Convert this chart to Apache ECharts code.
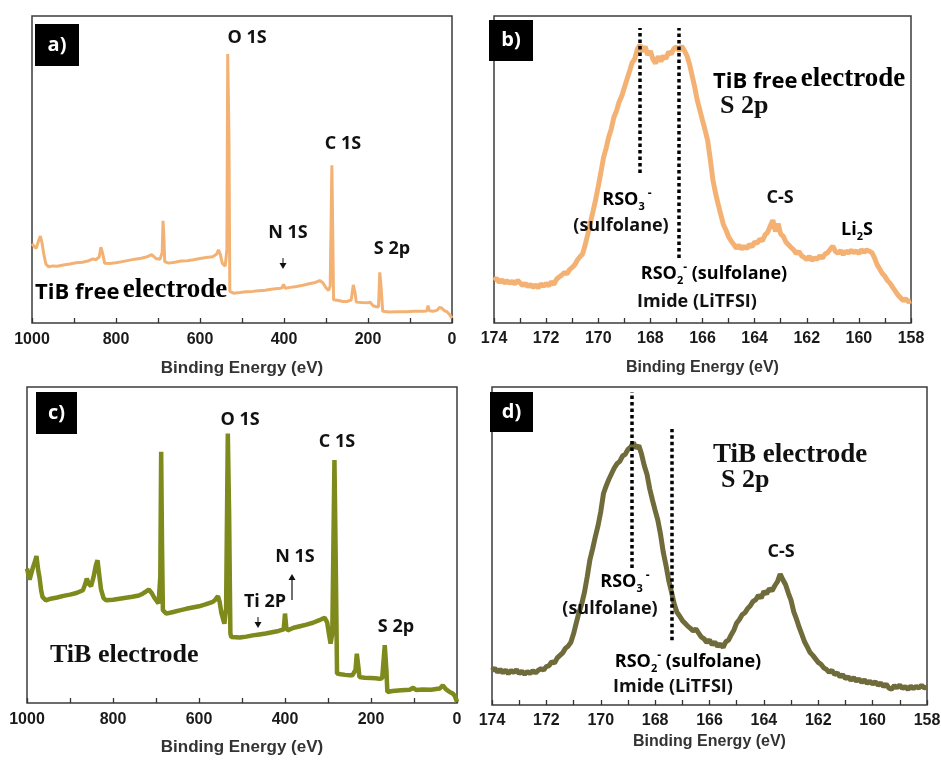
<!DOCTYPE html>
<html>
<head>
<meta charset="utf-8">
<script src="https://cdn.jsdelivr.net/npm/echarts@6/dist/echarts.min.js"></script>
<style>
  html, body { margin: 0; padding: 0; background: #fff; }
  #chart { width: 941px; height: 761px; }
</style>
</head>
<body>
<div id="chart"></div>
<script>
// Survey spectra: [binding energy (eV), intensity (a.u., 0-100)]
const surveyFree = [
  [1000,25.8],[995,25.0],[990,24.3],[985,26.5],[980,28.3],[976,26.0],[972,22.5],[967,19.2],[960,18.3],[950,18.6],
  [940,18.5],[925,18.9],[910,19.2],[895,19.6],[880,19.8],[865,20.3],[855,20.9],[848,20.6],[840,21.5],[836,24.7],
  [832,22.8],[827,19.5],[815,19.4],[800,19.6],[785,20.0],[770,20.4],[755,20.8],[740,21.1],[725,21.6],[715,22.3],
  [705,21.0],[695,20.8],[690,23.0],[688,33.3],[686,28.0],[684,20.0],[675,19.5],[660,19.8],[645,20.2],[630,20.3],
  [615,20.6],[600,21.0],[585,21.3],[570,21.6],[560,22.5],[556,23.8],[552,22.5],[547,19.5],[540,18.5],[536,24.0],
  [534,87.6],[531,60.0],[529,10.3],[520,9.7],[505,9.9],[490,10.2],[475,10.3],[460,10.5],[445,10.7],[430,11.0],
  [415,11.2],[405,11.4],[401,12.6],[397,11.3],[385,11.6],[370,11.9],[355,12.3],[340,12.8],[325,13.2],[315,13.8],
  [308,13.2],[300,11.5],[294,10.6],[290,12.0],[286,51.4],[284,30.0],[282,7.6],[270,7.3],[260,7.0],[250,7.0],
  [240,7.5],[235,12.4],[231,10.0],[228,6.8],[215,6.7],[200,6.6],[195,6.8],[188,5.6],[180,5.3],[175,5.2],
  [172,16.5],[169,12.0],[165,3.8],[150,3.6],[130,3.7],[110,3.7],[90,3.8],[70,3.8],[60,3.9],[57,5.7],
  [54,4.0],[45,3.8],[35,4.2],[30,5.1],[24,4.8],[18,4.0],[12,3.7],[6,2.8],[0,1.6]
];

const surveyTiB = [
  [1000,42.6],[994,39.0],[991,39.4],[986,43.0],[981,45.0],[978,46.5],[974,42.0],[971,39.8],[967,35.5],[964,33.6],
  [956,32.5],[945,33.0],[930,33.4],[915,33.9],[900,34.3],[885,34.8],[870,35.7],[865,37.5],[861,39.4],[856,37.6],
  [851,37.0],[845,40.0],[840,43.5],[836,45.2],[832,40.5],[828,36.0],[822,33.2],[816,32.5],[800,32.7],[785,33.0],
  [770,33.3],[755,33.6],[740,34.0],[731,34.6],[724,35.2],[717,35.9],[710,34.8],[704,33.3],[698,32.2],[694,31.5],
  [690,40.0],[688,79.5],[686,50.0],[684,29.4],[680,28.9],[676,28.3],[660,28.8],[645,29.3],[630,29.8],[615,30.2],
  [600,30.6],[585,31.2],[568,32.0],[562,32.7],[556,33.8],[552,32.0],[548,28.5],[544,26.5],[541,25.1],[537,30.0],
  [533,85.3],[530,60.0],[527,22.0],[525,20.9],[521,20.4],[505,20.7],[490,21.0],[475,21.4],[460,21.7],[445,22.0],
  [430,22.4],[415,22.8],[403,23.3],[400,28.3],[397,23.8],[394,23.0],[380,23.8],[365,24.3],[350,24.8],[335,25.4],
  [320,26.2],[308,27.0],[302,25.5],[298,22.0],[294,18.8],[290,22.0],[285,76.9],[282,45.0],[279,9.3],[270,9.1],
  [260,8.9],[250,8.8],[243,8.8],[236,10.5],[233,15.6],[229,11.0],[227,8.2],[215,8.0],[200,7.9],[190,7.8],
  [180,7.7],[174,7.8],[168,18.3],[164,10.0],[162,3.5],[150,3.8],[130,4.0],[110,4.2],[102,4.8],[95,4.1],
  [80,4.3],[60,4.2],[45,4.5],[40,4.6],[33,5.6],[26,4.4],[17,3.5],[10,3.0],[5,2.2],[0,0.3]
];

// S 2p high-resolution spectra
const s2pFree = [
  [174.0,13.9],[173.9,14.6],[173.8,13.2],[173.7,14.1],[173.6,13.0],[173.5,13.8],[173.4,12.9],[173.3,13.6],[173.2,12.7],[173.1,13.9],
  [173.0,13.1],[172.9,12.2],[172.8,12.9],[172.7,11.8],[172.6,12.6],[172.5,11.6],[172.4,12.4],[172.3,11.5],[172.2,12.7],[172.1,12.0],
  [172.0,12.9],[171.9,12.1],[171.8,13.4],[171.7,12.6],[171.6,14.3],[171.5,15.0],[171.4,15.6],[171.3,16.5],[171.2,16.0],[171.1,17.4],
  [171.0,18.1],[170.9,19.0],[170.8,20.5],[170.7,21.6],[170.6,22.5],[170.5,25.5],[170.4,29.0],[170.3,32.8],[170.2,36.4],[170.1,40.2],
  [170.0,44.5],[169.9,49.0],[169.8,53.8],[169.7,56.9],[169.6,60.5],[169.5,63.2],[169.4,67.0],[169.3,69.1],[169.2,72.0],[169.1,73.9],
  [169.0,76.6],[168.9,79.3],[168.8,82.0],[168.7,84.8],[168.6,86.0],[168.5,89.2],[168.4,90.6],[168.3,88.4],[168.2,90.1],[168.1,87.3],
  [168.0,88.6],[167.9,85.9],[167.8,84.6],[167.7,86.8],[167.6,85.2],[167.5,87.0],[167.4,86.1],[167.3,88.3],[167.2,87.6],[167.1,89.4],
  [167.0,89.9],[166.9,88.7],[166.8,90.2],[166.7,88.8],[166.6,87.1],[166.5,84.4],[166.4,80.6],[166.3,76.9],[166.2,72.5],[166.1,69.3],
  [166.0,66.0],[165.9,62.8],[165.8,59.3],[165.7,53.2],[165.6,46.6],[165.5,42.3],[165.4,38.7],[165.3,35.4],[165.2,32.1],[165.1,30.3],
  [165.0,28.1],[164.9,26.7],[164.8,25.6],[164.7,24.3],[164.6,25.4],[164.5,24.1],[164.4,25.0],[164.3,24.2],[164.2,25.6],[164.1,24.8],
  [164.0,26.4],[163.9,26.0],[163.8,27.3],[163.7,26.8],[163.6,28.7],[163.5,29.5],[163.4,31.6],[163.3,33.5],[163.2,29.8],[163.1,32.4],
  [163.0,29.0],[162.9,28.2],[162.8,26.4],[162.7,25.5],[162.6,24.6],[162.5,23.8],[162.4,22.6],[162.3,23.3],[162.2,21.9],[162.1,21.4],
  [162.0,20.6],[161.9,21.7],[161.8,20.4],[161.7,21.2],[161.6,20.8],[161.5,21.9],[161.4,21.1],[161.3,22.5],[161.2,22.9],[161.1,24.0],
  [161.0,25.1],[160.9,23.3],[160.8,22.7],[160.7,23.6],[160.6,22.3],[160.5,23.4],[160.4,22.8],[160.3,23.7],[160.2,22.9],[160.1,23.5],
  [160.0,22.6],[159.9,23.9],[159.8,23.0],[159.7,23.8],[159.6,23.4],[159.5,22.9],[159.4,21.2],[159.3,19.0],[159.2,17.6],[159.1,16.1],
  [159.0,15.2],[158.9,13.8],[158.8,12.9],[158.7,11.6],[158.6,10.4],[158.5,9.1],[158.4,8.2],[158.3,7.3],[158.2,7.9],[158.1,6.9],
  [158.0,7.2]
];

const s2pTiB = [
  [174.0,10.8],[173.9,11.6],[173.8,10.3],[173.7,11.2],[173.6,10.1],[173.5,11.0],[173.4,9.8],[173.3,10.9],[173.2,10.2],[173.1,11.1],
  [173.0,9.9],[172.9,10.6],[172.8,9.7],[172.7,10.5],[172.6,9.9],[172.5,10.8],[172.4,10.1],[172.3,10.9],[172.2,11.4],[172.1,11.0],
  [172.0,12.1],[171.9,12.4],[171.8,13.6],[171.7,13.2],[171.6,14.8],[171.5,15.6],[171.4,16.4],[171.3,17.8],[171.2,18.5],[171.1,19.7],
  [171.0,22.4],[170.9,25.8],[170.8,29.1],[170.7,31.8],[170.6,35.4],[170.5,40.2],[170.4,45.6],[170.3,49.1],[170.2,52.9],[170.1,56.4],
  [170.0,60.8],[169.9,66.5],[169.8,68.9],[169.7,71.0],[169.6,72.8],[169.5,74.6],[169.4,75.9],[169.3,76.6],[169.2,78.3],[169.1,78.8],
  [169.0,80.4],[168.9,81.1],[168.8,82.5],[168.7,80.8],[168.6,81.6],[168.5,78.9],[168.4,75.3],[168.3,72.6],[168.2,68.0],[168.1,64.5],
  [168.0,61.2],[167.9,58.1],[167.8,53.6],[167.7,48.0],[167.6,43.9],[167.5,39.2],[167.4,35.6],[167.3,31.8],[167.2,29.2],[167.1,28.0],
  [167.0,26.6],[166.9,25.7],[166.8,24.8],[166.7,24.1],[166.6,23.3],[166.5,23.9],[166.4,22.6],[166.3,21.4],[166.2,20.8],[166.1,19.7],
  [166.0,20.5],[165.9,18.9],[165.8,19.8],[165.7,18.4],[165.6,19.2],[165.5,18.1],[165.4,19.9],[165.3,20.4],[165.2,22.1],[165.1,23.6],
  [165.0,25.8],[164.9,26.9],[164.8,28.4],[164.7,29.0],[164.6,30.3],[164.5,31.2],[164.4,32.6],[164.3,33.1],[164.2,34.5],[164.1,33.6],
  [164.0,35.7],[163.9,35.0],[163.8,36.6],[163.7,35.9],[163.6,37.5],[163.5,38.8],[163.4,41.2],[163.3,39.4],[163.2,37.8],[163.1,35.2],
  [163.0,32.9],[162.9,29.3],[162.8,27.0],[162.7,24.4],[162.6,22.1],[162.5,19.8],[162.4,18.2],[162.3,16.5],[162.2,15.6],[162.1,14.5],
  [162.0,13.4],[161.9,12.8],[161.8,11.7],[161.7,11.2],[161.6,10.3],[161.5,10.9],[161.4,9.6],[161.3,10.1],[161.2,8.9],[161.1,9.5],
  [161.0,8.3],[160.9,8.9],[160.8,7.8],[160.7,8.6],[160.6,7.5],[160.5,8.2],[160.4,7.1],[160.3,7.9],[160.2,6.8],[160.1,7.5],
  [160.0,6.6],[159.9,7.3],[159.8,6.2],[159.7,6.9],[159.6,5.8],[159.5,6.6],[159.4,5.3],[159.3,5.0],[159.2,6.1],[159.1,5.4],
  [159.0,6.3],[158.9,5.2],[158.8,5.8],[158.7,4.9],[158.6,6.0],[158.5,5.1],[158.4,5.9],[158.3,5.3],[158.2,6.2],[158.1,5.4],
  [158.0,5.6]
];

// Reference positions of the sulfur species: [energy, from intensity, to intensity]
const guidesFree = [[168.4, 48.9, 96.1], [166.9, 21.2, 96.1]];
const guidesTiB  = [[168.85, 43.1, 98.4], [167.4, 20.4, 86.8]];

// Axis ranges
const surveyRange = [0, 1000];
const s2pRange = [158, 174];

const SANS = '"Open Sans", "DejaVu Sans", sans-serif';
const SERIF = '"Liberation Serif", "DejaVu Serif", serif';
const AXISFONT = '"Liberation Sans", Arial, sans-serif';

const panels = [
  { left: 32,  top: 16,  width: 420, height: 307, range: surveyRange, step: 200, nameSize: 17, nameGap: 37, margin: 9 },
  { left: 494, top: 16,  width: 417, height: 307, range: s2pRange,    step: 2,   nameSize: 16, nameGap: 37, margin: 8 },
  { left: 27,  top: 387, width: 430, height: 316, range: surveyRange, step: 200, nameSize: 17, nameGap: 36, margin: 9 },
  { left: 492, top: 387, width: 435, height: 318, range: s2pRange,    step: 2,   nameSize: 16, nameGap: 29, margin: 8 }
];

const grids = panels.map(p => ({
  left: p.left, top: p.top, width: p.width, height: p.height,
  show: true, borderColor: '#3c3c3c', borderWidth: 1.5, backgroundColor: 'transparent',
  outerBoundsMode: 'none'
}));

const xAxes = panels.map((p, i) => ({
  type: 'value', gridIndex: i, inverse: true,
  min: p.range[0], max: p.range[1], interval: p.step,
  name: 'Binding Energy (eV)', nameLocation: 'middle', nameGap: p.nameGap,
  nameTextStyle: { fontFamily: AXISFONT, fontWeight: 'bold', fontSize: p.nameSize, color: '#333' },
  axisLine: { show: false },
  axisTick: { show: true, inside: true, length: 5, lineStyle: { color: '#333', width: 1.3 } },
  minorTick: { show: true, splitNumber: 2, length: 5, lineStyle: { color: '#333', width: 1.3 } },
  splitLine: { show: false },
  minorSplitLine: { show: false },
  axisLabel: { margin: p.margin, fontFamily: AXISFONT, fontWeight: 'bold', fontSize: 16, color: '#1a1a1a',
    formatter: v => String(v) }
}));

const yAxes = panels.map((p, i) => ({
  type: 'value', gridIndex: i, min: 0, max: 100, show: false
}));

function guideLines(list) {
  return list.map(g => [{ coord: [g[0], g[1]] }, { coord: [g[0], g[2]] }]);
}

const dotted = { color: '#000', width: 3.5, type: [3.5, 3] };

const series = [
  { type: 'line', xAxisIndex: 0, yAxisIndex: 0, data: surveyFree, showSymbol: false,
    lineStyle: { color: '#F3B274', width: 3 } },
  { type: 'line', xAxisIndex: 1, yAxisIndex: 1, data: s2pFree, showSymbol: false,
    lineStyle: { color: '#F3B274', width: 5 },
    markLine: { symbol: 'none', silent: true, label: { show: false }, lineStyle: dotted,
      emphasis: { disabled: true }, data: guideLines(guidesFree) } },
  { type: 'line', xAxisIndex: 2, yAxisIndex: 2, data: surveyTiB, showSymbol: false,
    lineStyle: { color: '#7E8A1C', width: 4.5 } },
  { type: 'line', xAxisIndex: 3, yAxisIndex: 3, data: s2pTiB, showSymbol: false,
    lineStyle: { color: '#6F6B3A', width: 5 },
    markLine: { symbol: 'none', silent: true, label: { show: false }, lineStyle: dotted,
      emphasis: { disabled: true }, data: guideLines(guidesTiB) } }
];

// Text helpers for annotations
function label(text, x, y, size, opts) {
  opts = opts || {};
  return {
    type: 'text', x: x, y: y, silent: true, z: 100,
    style: {
      text: text, fill: opts.fill || '#111', align: 'center', verticalAlign: 'middle',
      font: (opts.weight || 'bold') + ' ' + size + 'px ' + (opts.family || SANS)
    }
  };
}

function tag(text, x, y, w, h) {
  return [
    { type: 'rect', shape: { x: x, y: y, width: w, height: h }, style: { fill: '#000' }, z: 100 },
    label(text, x + w / 2, y + h / 2, 20, { fill: '#fff' })
  ];
}

const chemRich = {
  n: { fontFamily: SANS, fontWeight: 'bold', fontSize: 18, color: '#111', lineHeight: 24, verticalAlign: 'middle' },
  sub: { fontFamily: SANS, fontWeight: 'bold', fontSize: 11, color: '#111', lineHeight: 24, verticalAlign: 'bottom' },
  sup: { fontFamily: SANS, fontWeight: 'bold', fontSize: 12, color: '#111', lineHeight: 24, verticalAlign: 'top' }
};

function chem(text, x, y) {
  return {
    type: 'text', x: x, y: y, silent: true, z: 100,
    style: { text: text, align: 'center', verticalAlign: 'middle', rich: chemRich }
  };
}

function mixedTitle(sansPart, serifPart, x, y, sansSize, serifSize) {
  return {
    type: 'text', x: x, y: y, silent: true, z: 100,
    style: {
      text: '{s|' + sansPart + '} {t|' + serifPart + '}', align: 'left', verticalAlign: 'middle',
      rich: {
        s: { fontFamily: SANS, fontWeight: 'bold', fontSize: sansSize, color: '#111', lineHeight: 30, verticalAlign: 'bottom' },
        t: { fontFamily: SERIF, fontWeight: 'bold', fontSize: serifSize, color: '#111', lineHeight: 30, verticalAlign: 'bottom' }
      }
    }
  };
}

function serifText(text, x, y, size) {
  return {
    type: 'text', x: x, y: y, silent: true, z: 100,
    style: { text: text, fill: '#111', align: 'left', verticalAlign: 'middle',
      font: 'bold ' + size + 'px ' + SERIF }
  };
}

function downMark(x, y) {
  return [
    { type: 'line', shape: { x1: x, y1: y - 7, x2: x, y2: y }, style: { stroke: '#111', lineWidth: 1 }, z: 100 },
    { type: 'polygon', shape: { points: [[x - 3.5, y - 2], [x + 3.5, y - 2], [x, y + 4]] }, style: { fill: '#111' }, z: 100 }
  ];
}

function upArrow(x, y1, y2) {
  return [
    { type: 'line', shape: { x1: x, y1: y1, x2: x, y2: y2 + 4 }, style: { stroke: '#111', lineWidth: 1.2 }, z: 100 },
    { type: 'polygon', shape: { points: [[x - 3.5, y2 + 6], [x + 3.5, y2 + 6], [x, y2]] }, style: { fill: '#111' }, z: 100 }
  ];
}

const graphics = [].concat(
  // a) survey, TiB free electrode
  tag('a)', 35, 24, 44, 42),
  label('O 1S', 247, 38, 18),
  label('C 1S', 343, 144, 18),
  label('N 1S', 288, 233, 18),
  downMark(283, 265),
  label('S 2p', 392, 249, 18),
  mixedTitle('TiB free', 'electrode', 35, 289, 22, 27),

  // b) S 2p, TiB free electrode
  tag('b)', 489, 20, 44, 41),
  mixedTitle('TiB free', 'electrode', 713, 78, 22, 27),
  serifText('S 2p', 720, 106, 26),
  chem('{n|RSO}{sub|3}{sup| -}', 627, 200),
  label('(sulfolane)', 621, 226, 18),
  label('C-S', 780, 198, 18),
  chem('{n|Li}{sub|2}{n|S}', 857, 230),
  chem('{n|RSO}{sub|2}{sup|-}{n| (sulfolane)}', 714, 274),
  label('Imide (LiTFSI)', 697, 302, 18),

  // c) survey, TiB electrode
  tag('c)', 36, 392, 41, 42),
  label('O 1S', 240, 420, 18),
  label('C 1S', 337, 442, 18),
  label('N 1S', 295, 557, 18),
  upArrow(292, 600, 574),
  label('Ti 2P', 265, 602, 18),
  downMark(258, 624),
  label('S 2p', 396, 627, 18),
  serifText('TiB electrode', 50, 655, 26),

  // d) S 2p, TiB electrode
  tag('d)', 490, 392, 43, 40),
  serifText('TiB electrode', 713, 455, 27),
  serifText('S 2p', 721, 480, 26),
  label('C-S', 781, 552, 18),
  chem('{n|RSO}{sub|3}{sup| -}', 625, 582),
  label('(sulfolane)', 610, 609, 18),
  chem('{n|RSO}{sub|2}{sup|-}{n| (sulfolane)}', 688, 662),
  label('Imide (LiTFSI)', 673, 687, 18)
);

const chart = echarts.init(document.getElementById('chart'), null, { renderer: 'canvas' });
chart.setOption({
  animation: false,
  backgroundColor: '#fff',
  grid: grids,
  xAxis: xAxes,
  yAxis: yAxes,
  series: series,
  graphic: { elements: graphics }
});
</script>
</body>
</html>
